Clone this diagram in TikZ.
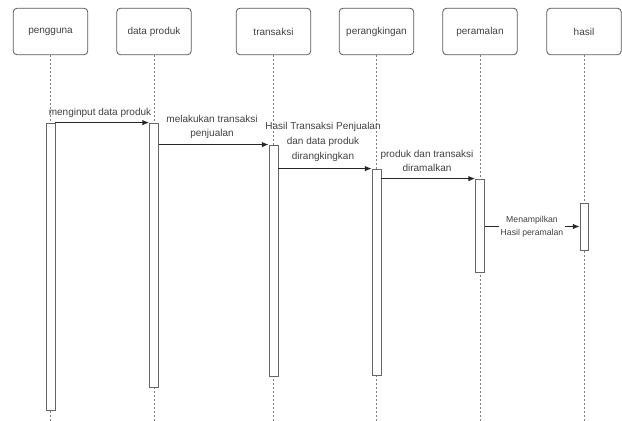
\documentclass[tikz,border=0pt]{standalone}
\usepackage{fontspec}
\setmainfont{Liberation Sans}
\usetikzlibrary{arrows.meta,fit}
\begin{document}
\begin{tikzpicture}[x=0.75pt,y=-0.75pt,
  head/.style={draw=black!65,rounded corners=3pt,line width=0.6pt,minimum width=56pt,minimum height=35pt,inner sep=0pt,font=\fontsize{7.5}{9}\selectfont,text=black!75},
  life/.style={draw=black!50,dash pattern=on 1.5pt off 1.5pt,line width=0.5pt},
  bar/.style={draw=black!60,fill=white,line width=0.6pt,inner sep=0pt},
  msg/.style={draw=black!85,line width=0.7pt,-{Latex[length=5pt,width=4pt]}},
  lbl/.style={font=\fontsize{7.5}{11}\selectfont,text=black!75,align=center,inner sep=1pt}]
\useasboundingbox (0,0) rectangle (622,421);
% headers
\node[head] (h1) at (50.5,31.5) {pengguna};
\node[head] (h2) at (154,31.5) {data produk};
\node[head] (h3) at (273.5,31.5) {transaksi};
\node[head] (h4) at (376.5,31.5) {perangkingan};
\node[head] (h5) at (480,31.5) {peramalan};
\node[head] (h6) at (584,31.5) {hasil};
% lifeline ends
\coordinate (e1) at (50.5,421);
\coordinate (e2) at (154,421);
\coordinate (e3) at (273.5,421);
\coordinate (e4) at (376.5,421);
\coordinate (e5) at (480,421);
\coordinate (e6) at (584,421);
\foreach \i in {1,...,6} \draw[life] (h\i.south) -- (e\i);
% activation bars
\node[bar,fit={(46,123) (55,410)}] (b1) {};
\node[bar,fit={(149.5,123) (158.5,387)}] (b2) {};
\node[bar,fit={(269,145) (278,376)}] (b3) {};
\node[bar,fit={(372,169) (381,375)}] (b4) {};
\node[bar,fit={(475.5,179) (484.5,272)}] (b5) {};
\node[bar,fit={(580,203) (588,250)}] (b6) {};
% messages
\draw[msg] (b1.north east) -- (b2.north west);
\node[lbl] (l1) at (100,113) {menginput data produk};
\draw[msg] (b2.east |- b3.north west) -- (b3.north west);
\node[lbl] (l2) at (212,127) {melakukan transaksi\\penjualan};
\draw[msg] (b3.east |- b4.north west) -- (b4.north west);
\node[lbl] (l3) at (323,142) {Hasil Transaksi Penjualan\\dan data produk\\dirangkingkan};
\draw[msg] (b4.east |- b5.north west) -- (b5.north west);
\node[lbl] (l4) at (427,161) {produk dan transaksi\\diramalkan};
\draw[msg] (b5.east |- b6.west) -- (b6.west);
\node[lbl,fill=white,font=\fontsize{6.5}{9.5}\selectfont] (l5) at (532,226.5) {Menampilkan\\Hasil peramalan};
\end{tikzpicture}
\end{document}
